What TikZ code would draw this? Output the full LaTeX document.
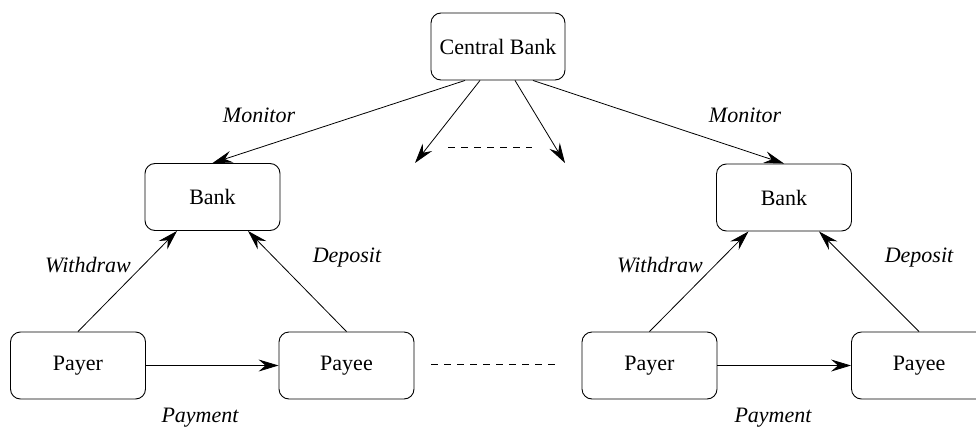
\documentclass[tikz,border=0pt]{standalone}
\usepackage{fontspec}
\setmainfont{Liberation Serif}
\usetikzlibrary{arrows.meta}
\begin{document}
\begin{tikzpicture}[x=1pt,y=-1pt,
  every node/.style={font=\fontsize{22}{26}\selectfont},
  boxnode/.style={draw,line width=0.9pt,rounded corners=10pt,minimum width=135pt,minimum height=67pt,inner sep=0pt},
  lbl/.style={font=\fontsize{22}{26}\selectfont\itshape},
  conn/.style={line width=0.8pt,-{Stealth[length=20pt,width=12pt,inset=7pt]}},
  dashline/.style={line width=0.8pt,dash pattern=on 7pt off 6pt}]
\clip (0,0) rectangle (976,428);
\useasboundingbox (0,0) rectangle (976,428);
% nodes
\node[boxnode,minimum width=134pt] (cb) at (498,46.5) {Central Bank};
\node[boxnode] (lbank) at (212.5,197) {Bank};
\node[boxnode] (lpayer) at (78,365.5) {Payer};
\node[boxnode] (lpayee) at (346.5,365.5) {Payee};
\node[boxnode] (rbank) at (784,197.5) {Bank};
\node[boxnode] (rpayer) at (649.5,365.5) {Payer};
\node[boxnode] (rpayee) at (919,365.5) {Payee};
% free ends
\coordinate (m1) at (415,163);
\coordinate (m2) at (565,163);
\coordinate (d1a) at (448,147);
\coordinate (d1b) at (532,147);
\coordinate (d2a) at (431,364);
\coordinate (d2b) at (558,364);
% connectors
\draw[conn] ([xshift=-33pt]cb.south) -- (lbank.north);
\draw[conn] ([xshift=-18pt]cb.south) -- (m1);
\draw[conn] ([xshift=17pt]cb.south) -- (m2);
\draw[conn] ([xshift=35pt]cb.south) -- (rbank.north);
\draw[conn] (lpayer.north) -- ([xshift=-35.5pt]lbank.south);
\draw[conn] (lpayee.north) -- ([xshift=35.5pt]lbank.south);
\draw[conn] (lpayer.east) -- (lpayee.west);
\draw[conn] (rpayer.north) -- ([xshift=-35.5pt]rbank.south);
\draw[conn] (rpayee.north) -- ([xshift=35pt]rbank.south);
\draw[conn] (rpayer.east) -- (rpayee.west);
\draw[dashline] (d1a) -- (d1b);
\draw[dashline] (d2a) -- (d2b);
% labels
\node[lbl] (lmon) at (259,115) {Monitor};
\node[lbl] (rmon) at (745,115) {Monitor};
\node[lbl] (lwd) at (88,265) {Withdraw};
\node[lbl] (ldep) at (347,258) {Deposit};
\node[lbl] (lpay) at (200,418) {Payment};
\node[lbl] (rwd) at (660,265) {Withdraw};
\node[lbl] (rdep) at (919,258) {Deposit};
\node[lbl] (rpay) at (773,418) {Payment};
\end{tikzpicture}
\end{document}
